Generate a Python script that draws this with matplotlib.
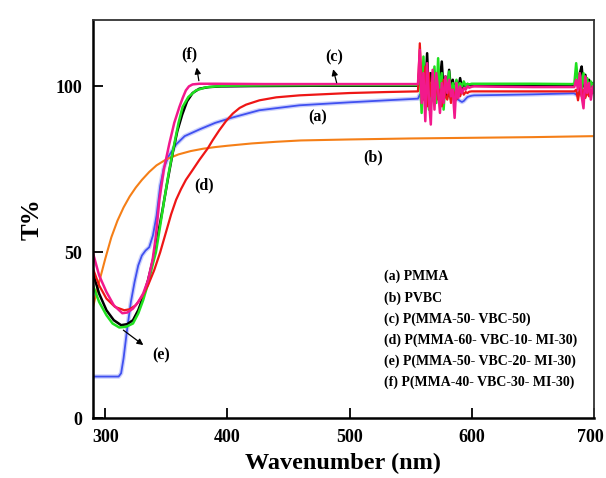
import matplotlib.pyplot as plt
import matplotlib.transforms as mtransforms
import numpy as np

plt.rcParams['font.family'] = ['Liberation Serif', 'DejaVu Serif']
plt.rcParams['font.weight'] = 'bold'

# ---- data ----
# shared x for the two noisy stretches (lamp change artefacts)
noise1_x = [556, 557.5, 559, 560.5, 562, 563.5, 565, 566.5, 568, 569.5, 571, 572.5,
            574, 575.5, 577, 578.5, 580, 581.5, 583, 584.5, 586, 587.5, 589, 590.5,
            592, 593.5, 595, 596.5, 598, 600, 602]
mid_x = [620, 650, 682]
noise2_x = [684, 685.5, 687, 688.5, 690, 691.5, 693, 694.5, 696, 697.5, 699, 700]

# (a) PMMA - blue
a_x = [290, 311, 313, 315, 318, 321, 324, 327, 330, 333, 336, 339, 342, 345, 348, 352,
       358, 365, 377, 390, 404, 426, 459, 500, 530]
a_y = [12.5, 12.5, 13.5, 18, 27, 35, 41, 46, 49, 50.5, 51.5, 55, 61, 70, 75.5, 79,
       82.5, 85, 87, 89, 90.6, 92.8, 94.3, 95.2, 95.8]
a_noise1 = [96.3, 97.5, 96, 97, 96.5, 97.2, 96.3, 97, 96.6, 97.3, 96.8, 97, 96.5, 97.2,
            96.8, 97, 96.9, 97.1, 96.5, 96.8, 96.4, 96.2, 96, 95.6, 95.3, 95.6, 96.2,
            96.8, 97, 97.2, 97.3]
a_mid = [97.4, 97.6, 97.9]
a_noise2 = [97.9, 97.5, 98.2, 97.6, 98.0, 97.7, 98.2, 97.8, 98.1, 97.9, 98.0, 98.0]

# (b) PVBC - orange
b_x = [290, 295, 300, 305, 310, 315, 320, 325, 330, 336, 342, 350, 360, 370, 380, 390,
       400, 420, 440, 460, 500, 550, 600, 650, 700]
b_y = [33.5, 41, 48, 54.5, 59.5, 63.5, 66.8, 69.5, 71.8, 74.2, 76.2, 78, 79.5, 80.5,
       81.2, 81.7, 82.1, 82.8, 83.3, 83.7, 84.0, 84.3, 84.5, 84.7, 85.0]

# (c) P(MMA-50-VBC-50) - black
c_x = [290, 295, 301, 307, 313, 318, 322.7, 327, 331, 335, 339, 343, 347, 351, 355,
       359, 363, 367, 371.5, 377, 385, 395, 420, 470, 520]
c_y = [43.6, 37.5, 32.5, 29.5, 28, 28.3, 29.5, 32.5, 36.5, 41.5, 47.6, 55, 63, 71.5,
       79.5, 86.5, 91.5, 95.5, 98, 99.3, 99.8, 100, 100.1, 100.2, 100.2]
c_noise1 = [100.2, 106, 97, 102, 99, 110, 96, 104, 98, 101, 97, 99, 102, 107.5, 98, 103,
            97, 105, 99, 102, 98, 101.5, 99, 102.5, 99.5, 101, 100, 100.7, 100.5, 100.5,
            100.5]
c_mid = [100.5, 100.5, 100.5]
c_noise2 = [100.5, 101, 102, 104, 106, 100, 103.5, 99.5, 102, 100, 101, 100.5]

# (d) P(MMA-60-VBC-10-MI-30) - red
d_x = [290, 295, 301, 308, 315.6, 320, 325, 330, 335, 340, 345, 349.7, 354, 358, 362,
       366, 371, 377, 383.9, 388, 393.4, 399, 404.4, 410, 415.3, 426.2, 440, 459, 500, 530]
d_y = [45, 40, 36, 33.5, 32.5, 32.8, 34, 36.5, 40, 44.5, 50, 56, 61.5, 65.8, 69,
       71.8, 74.5, 77.8, 81.3, 83.8, 86.8, 89.6, 91.8, 93.5, 94.5, 95.8, 96.7, 97.3,
       98, 98.3]
d_noise1 = [98.5, 113, 101, 96, 106, 94, 104, 97, 100, 95, 103, 96, 99, 94, 102, 97,
            96, 100, 95, 99, 97.5, 96, 98, 97, 98.8, 97.5, 98.3, 98, 98.4, 98.5, 98.5]
d_mid = [98.5, 98.5, 98.5]
d_noise2 = [98.5, 99, 95.8, 99.5, 97, 99, 96.5, 98.5, 97, 99, 98, 98.5]

# (e) P(MMA-50-VBC-20-MI-30) - green
e_x = [290, 295, 301, 306, 311.5, 317, 322.7, 327, 331, 335, 339, 341.5, 345, 348.3,
       352, 356.6, 360, 363.3, 368, 374.3, 382, 390.7, 400, 430, 480, 530]
e_y = [40, 35, 31, 28.5, 27.3, 27.5, 28.5, 31.5, 35.5, 40.5, 46.5, 50, 58, 65.8, 74,
       82.8, 89, 93.8, 96.8, 98.8, 99.7, 100, 100.2, 100.3, 100.4, 100.4]
e_noise1 = [100.4, 104, 92, 109, 96, 103, 93, 101, 98, 106, 95, 108.5, 97, 104, 93, 102,
            99, 104.5, 96, 101, 98, 102, 99.5, 101, 100, 101.5, 100.2, 100.8, 100.6,
            100.8, 100.8]
e_mid = [100.8, 100.8, 100.7]
e_noise2 = [100.8, 107, 101, 103.5, 99, 104, 100, 102.5, 99, 101.5, 100, 101]

# (f) P(MMA-40-VBC-30-MI-30) - pink
f_x = [290, 295, 301, 307, 314, 318, 322.7, 327, 331, 335, 338.8, 341.5, 344.3, 348,
       352.5, 356.5, 360.7, 363.5, 366, 368.5, 371.5, 377, 390, 430, 480, 530]
f_y = [49.7, 43, 38, 34, 31.6, 31.8, 33, 35, 37.5, 41.5, 47.8, 55, 65.8, 75, 82.8,
       89, 93.8, 96.6, 98.8, 100, 100.6, 100.8, 100.8, 100.7, 100.7, 100.7]
f_noise1 = [100.7, 111, 95, 104, 89.5, 107, 96, 88.5, 105, 93, 104, 99, 92, 101, 95, 103,
            98, 102, 97, 99, 90.5, 101, 96.5, 100, 98, 99.5, 99, 100, 99.6, 99.9, 100]
f_mid = [99.9, 99.8, 99.8]
f_noise2 = [99.8, 102, 99, 104, 97, 93.4, 103, 98, 101, 96, 100, 99]

legend_lines = ['(a) PMMA', '(b) PVBC', '(c) P(MMA-50- VBC-50)',
                '(d) P(MMA-60- VBC-10- MI-30)', '(e) P(MMA-50- VBC-20- MI-30)',
                '(f) P(MMA-40- VBC-30- MI-30)']


def full(x, y, n1, mid, n2):
    xs = np.concatenate([x, noise1_x, mid_x, noise2_x])
    ys = np.concatenate([y, n1, mid, n2])
    return xs, ys


fig = plt.figure(figsize=(6.06, 4.78), dpi=100)
ax = fig.add_axes([0.1535, 0.1255, 0.8265, 0.8325])

ax_x, ax_y = full(a_x, a_y, a_noise1, a_mid, a_noise2)
ax.plot(ax_x, ax_y, color='#6f7cf7', lw=3.2, alpha=0.35)
ax.plot(ax_x, ax_y, color='#4050f0', lw=1.3)
ax.plot(b_x, b_y, color='#f57f17', lw=1.5)
ax.plot(*full(c_x, c_y, c_noise1, c_mid, c_noise2), color='black', lw=1.8)
ax.plot(*full(e_x, e_y, e_noise1, e_mid, e_noise2), color='#1fe01f', lw=1.8)
ax.plot(*full(d_x, d_y, d_noise1, d_mid, d_noise2), color='#ee1616', lw=1.6)
ax.plot(*full(f_x, f_y, f_noise1, f_mid, f_noise2), color='#f2198c', lw=1.8)

ax.set_xlim(290, 700)
ax.set_ylim(0, 120)
ax.set_xticks([300, 400, 500, 600, 700])
ax.set_yticks([0, 50, 100])
ax.tick_params(direction='in', length=7, width=1.3, labelsize=13, pad=8)
for lab in ax.get_xticklabels() + ax.get_yticklabels():
    lab.set_fontweight('bold')
# nudge the last x label so it stays inside the figure
last = ax.get_xticklabels()[-1]
last.set_transform(last.get_transform() +
                   mtransforms.ScaledTranslation(-4 / 100, 0, fig.dpi_scale_trans))
for s in ['left', 'bottom']:
    ax.spines[s].set_linewidth(1.8)
for s in ['top', 'right']:
    ax.spines[s].set_linewidth(1.3)
    ax.spines[s].set_color('#333333')

ax.set_xlabel('Wavenumber (nm)', fontsize=17.5, fontweight='bold', labelpad=5)
ax.set_ylabel('T%', fontsize=18, fontweight='bold', labelpad=8)

# curve labels
kw = dict(fontsize=11.5, fontweight='bold', ha='center', va='center')
ax.text(368.9, 109.6, '(f)', **kw)
ax.text(487.7, 108.7, '(c)', **kw)
ax.text(473.8, 90.7, '(a)', **kw)
ax.text(518.9, 78.6, '(b)', **kw)
ax.text(381, 70.2, '(d)', **kw)
ax.text(346, 19, '(e)', **kw)
arr = dict(arrowstyle='-|>', color='black', lw=0.9, mutation_scale=9)
ax.annotate('', xy=(374.5, 106.5), xytext=(377, 100.9), arrowprops=arr)
ax.annotate('', xy=(486, 106), xytext=(490, 100.3), arrowprops=arr)
ax.annotate('', xy=(333, 21.5), xytext=(313, 27), arrowprops=arr)

for i, line in enumerate(legend_lines):
    ax.text(528.5, 42.6 - i * 6.35, line, fontsize=10, fontweight='bold',
            ha='left', va='center')

fig.savefig('out.png', dpi=100)
